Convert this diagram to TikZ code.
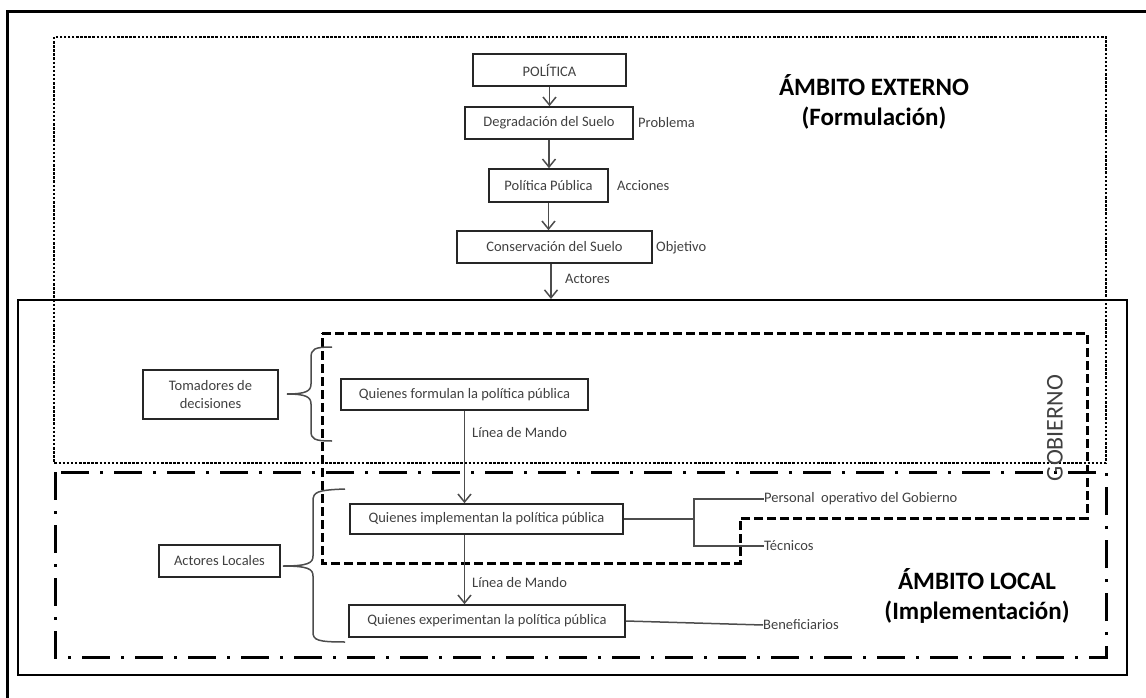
\documentclass[tikz,border=0pt]{standalone}
\usepackage{fontspec}
\setmainfont{Carlito}
\usetikzlibrary{arrows.meta}

\begin{document}
\begin{tikzpicture}[x=1pt, y=-1pt,
		box/.style={draw=black!85, line width=1.6pt, inner sep=0pt, align=center, text=black!75, font=\fontsize{14.5}{17.5}\selectfont},
		lbl/.style={inner sep=0pt, text=black!75, font=\fontsize{14.5}{17.5}\selectfont},
		big/.style={align=center, font=\bfseries\fontsize{25}{30}\selectfont},
		conn/.style={draw=black!70, line width=1.5pt},
		arr/.style={conn, -{Straight Barb[length=8pt, width=13pt, line width=1.5pt]}}]
		\useasboundingbox (0,0) rectangle (1146,698);
		% Frames
		\draw[line width=3pt] (1146,12) -- (7,12) -- (7,698);
		\draw[line width=2.5pt] (18,300) rectangle (1127,675);
		\draw[line width=2.5pt, dash pattern=on 2.5pt off 1.6pt] (54,37) rectangle (1106,463);
		\draw[line width=3pt, dash pattern=on 28pt off 11pt on 3pt off 11pt] (55,472) rectangle (1106,657);
		\draw[line width=3pt, dash pattern=on 9pt off 4pt] (322,333) -- (1087,333) -- (1087,518) -- (740,518) -- (740,563) -- (322,563) -- cycle;
		\node[big] (ext) at (874,102) {ÁMBITO EXTERNO\\(Formulación)};
		\node[big] (loc) at (977,596) {ÁMBITO LOCAL\\(Implementación)};
		\node[rotate=90, text=black!75, font=\fontsize{24}{28}\selectfont] (gob) at (1055,428) {GOBIERNO};
		% Formulacion
		\node[box, minimum width=153pt, minimum height=32pt] (pol) at (549.5,70) {POLÍTICA};
		\node[box, minimum width=168pt, minimum height=32pt] (deg) at (549,123) {Degradación del Suelo};
		\node[box, minimum width=119pt, minimum height=33pt] (pp) at (548.5,185.5) {Política Pública};
		\node[box, minimum width=195pt, minimum height=32pt] (cons) at (554.5,247) {Conservación del Suelo};
		\node[lbl, anchor=west] (prob) at (638,123) {Problema};
		\node[lbl, anchor=west] (acc) at (617,186) {Acciones};
		\node[lbl, anchor=west] (obj) at (656,248) {Objetivo};
		\node[lbl, anchor=west] (actr) at (565,279) {Actores};
		\coordinate (act) at (551,299);
		\draw[arr] (pol.south) -- (pol.south |- deg.north);
		\draw[arr] (deg.south) -- (deg.south |- pp.north);
		\draw[arr] (pp.south) -- (pp.south |- cons.north);
		\draw[arr] (act |- cons.south) -- (act);
		% Implementacion
		\node[box, minimum width=135pt, minimum height=49pt] (toma) at (210.5,394.5) {Tomadores de\\decisiones};
		\node[box, minimum width=121pt, minimum height=32pt] (actloc) at (219.5,561) {Actores Locales};
		\node[box, minimum width=247pt, minimum height=31pt] (form) at (464.5,394.5) {Quienes formulan la política pública};
		\node[box, minimum width=273pt, minimum height=30pt] (impl) at (486.5,519) {Quienes implementan la política pública};
		\node[box, minimum width=276pt, minimum height=32pt] (exper) at (487,621) {Quienes experimentan la política pública};
		\node[lbl, anchor=west] (mando1) at (472,433) {Línea de Mando};
		\node[lbl, anchor=west] (mando2) at (472,583) {Línea de Mando};
		\draw[arr] (form.south) -- (form.south |- impl.north);
		\draw[arr] (form.south |- impl.south) -- (form.south |- exper.north);
		% Braces
		\draw[conn] (332,347) .. controls (314,347) and (311,349) .. (311,358) -- (311,384) .. controls (311,391) and (306,394) .. (287,394) .. controls (306,394) and (311,397) .. (311,404) -- (311,431) .. controls (311,439) and (314,441) .. (332,441);
		\draw[conn] (345,489) .. controls (317,490) and (313,492) .. (313,501) -- (313,556) .. controls (313,563) and (308,566) .. (283,566) .. controls (308,566) and (313,569) .. (313,576) -- (313,632) .. controls (313,640) and (317,642) .. (345,642);
		% Actores
		\node[lbl, anchor=west] (pers) at (764,499) {Personal\ \ operativo del Gobierno};
		\node[lbl, anchor=west] (tec) at (764,546) {Técnicos};
		\node[lbl, anchor=west] (benef) at (763,625) {Beneficiarios};
		\coordinate (fork) at (694,519);
		\draw[conn] (impl.east) -- (fork);
		\draw[conn] (pers.west) -| (fork) |- (tec.west);
		\draw[conn] (exper.east) -- (benef.west);
	\end{tikzpicture}
\end{document}
